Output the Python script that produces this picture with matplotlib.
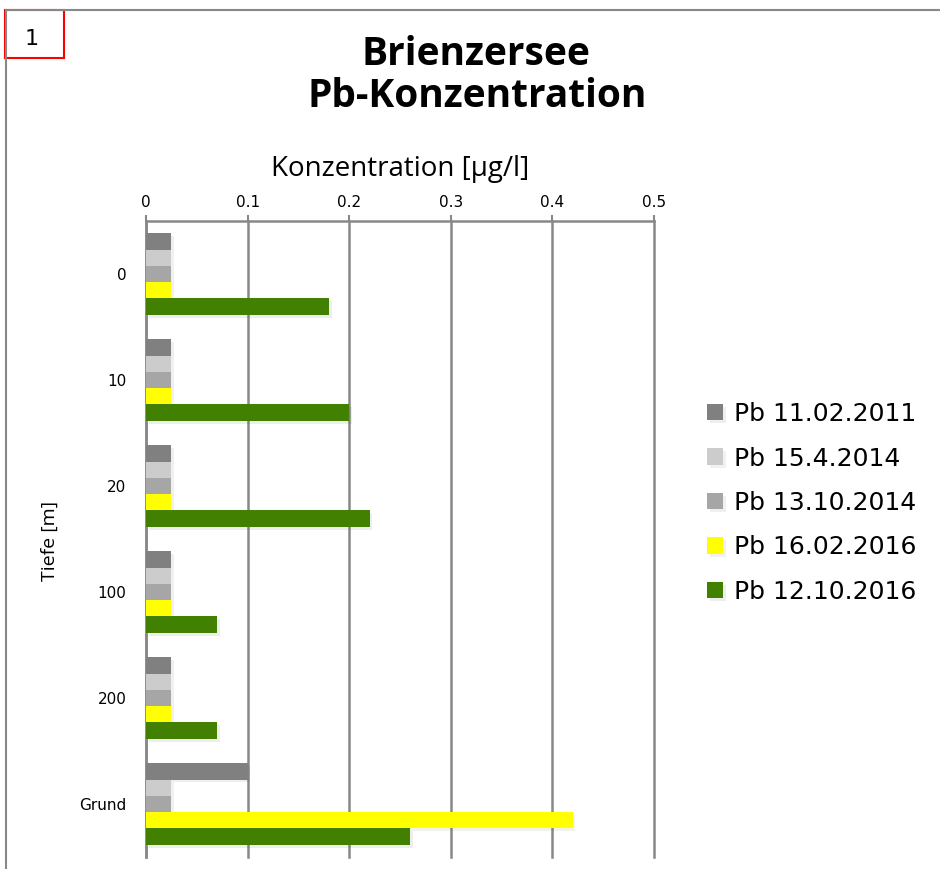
import numpy as np
import matplotlib
matplotlib.use('Agg')
import matplotlib.pyplot as plt
import matplotlib.patheffects as pe
from matplotlib.patches import Rectangle
from matplotlib.lines import Line2D

# depths (categories) and series values
depths = ['0', '10', '20', '100', '200', 'Grund']
series_names = ['Pb 11.02.2011', 'Pb 15.4.2014', 'Pb 13.10.2014',
                'Pb 16.02.2016', 'Pb 12.10.2016']
pb_2011_02 = [0.025, 0.025, 0.025, 0.025, 0.025, 0.1]
pb_2014_04 = [0.025, 0.025, 0.025, 0.025, 0.025, 0.025]
pb_2014_10 = [0.025, 0.025, 0.025, 0.025, 0.025, 0.025]
pb_2016_02 = [0.025, 0.025, 0.025, 0.025, 0.025, 0.42]
pb_2016_10 = [0.18, 0.2, 0.22, 0.07, 0.07, 0.26]
x_ticks = [0, 0.1, 0.2, 0.3, 0.4, 0.5]
x_ticklabels = ['0', '0.1', '0.2', '0.3', '0.4', '0.5']

colors = ['#808080', '#cccccc', '#a6a6a6', '#ffff00', '#418000']
all_series = [pb_2011_02, pb_2014_04, pb_2014_10, pb_2016_02, pb_2016_10]

W, H = 940, 869
fig = plt.figure(figsize=(W / 100, H / 100), dpi=100)
ax = fig.add_axes([146 / W, 1 - 857 / H, 508 / W, 636 / H])

# soft shadow like the office chart
shadow = [pe.SimplePatchShadow(offset=(2, -2), alpha=0.07), pe.Normal()]

y = np.arange(len(depths))
h = 0.77 / 5
for j, (vals, name, c) in enumerate(zip(all_series, series_names, colors)):
    ax.barh(y + (j - 2) * h, vals, height=h, color=c, label=name, zorder=3,
            path_effects=shadow)

ax.set_xlim(0, 0.5)
ax.set_ylim(len(depths) - 0.5, -0.5)
ax.set_xticks(x_ticks)
ax.set_xticklabels(x_ticklabels, fontsize=11)
ax.xaxis.tick_top()
ax.tick_params(axis='x', length=4, width=1.5, color='#888888', pad=4)
ax.set_yticks(y)
ax.set_yticklabels(depths, fontsize=11)
ax.tick_params(axis='y', length=0, pad=14)
ax.grid(axis='x', color='#888888', linewidth=1.8, zorder=0)
for gl in ax.xaxis.get_gridlines():
    gl.set_clip_on(False)
for s in ['right', 'bottom']:
    ax.spines[s].set_visible(False)
for s in ['top', 'left']:
    ax.spines[s].set_color('#888888')
    ax.spines[s].set_linewidth(1.8)

# axis titles
fig.text(400 / W, 1 - 176 / H, 'Konzentration [μg/l]', fontsize=20,
         family='Open Sans', ha='center', va='baseline')
fig.text(50 / W, 1 - 541 / H, 'Tiefe [m]', rotation=90, fontsize=14,
         family='Open Sans', ha='center', va='center')

# title
fig.text(476 / W, 1 - 65 / H, 'Brienzersee', fontsize=28, fontweight='bold',
         family='Open Sans', ha='center', va='baseline')
fig.text(477 / W, 1 - 107 / H, 'Pb-Konzentration', fontsize=28,
         fontweight='bold', family='Open Sans', ha='center', va='baseline')

ax.legend(loc='center left', bbox_to_anchor=(707 / W, 1 - 503 / H),
          bbox_transform=fig.transFigure, frameon=False, fontsize=18,
          handlelength=0.64, handleheight=0.64, handletextpad=0.44,
          labelspacing=0.82, borderpad=0, borderaxespad=0)

# outer frame and numbered box
fig.add_artist(Line2D([6 / W, 6 / W], [0, 1 - 10 / H],
                      transform=fig.transFigure, color='#888888', lw=1.5))
fig.add_artist(Line2D([6 / W, 1], [1 - 10 / H, 1 - 10 / H],
                      transform=fig.transFigure, color='#888888', lw=1.5))
fig.add_artist(Rectangle((5 / W, 1 - 58 / H), 59 / W, 48 / H,
                         transform=fig.transFigure, facecolor='white',
                         edgecolor='red', lw=1.5))
fig.text(32 / W, 1 - 39 / H, '1', fontsize=16, ha='center', va='center')

fig.savefig('out.png', dpi=100)
